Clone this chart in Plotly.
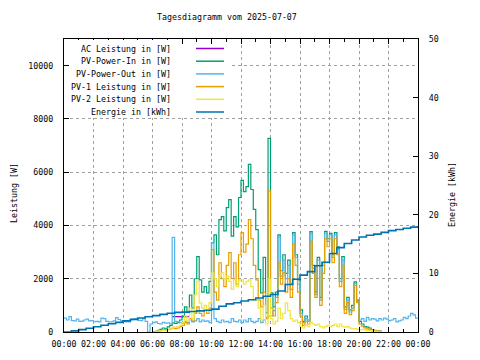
import plotly.graph_objects as go
import pandas as pd

DAY = "2025-07-07"
TITLE = "Tagesdiagramm vom 2025-07-07"

LEGEND_LABELS = ["AC Leistung in [W]", "PV-Power-In in [W]", "PV-Power-Out in [W]",
                 "PV-1 Leistung in [W]", "PV-2 Leistung in [W]", "Energie in [kWh]"]
COLORS = ["#9400d3", "#009e73", "#56b4e9", "#e69f00", "#f0e442", "#0072b2"]
X_TICK_LABELS = ["00:00", "02:00", "04:00", "06:00", "08:00", "10:00", "12:00",
                 "14:00", "16:00", "18:00", "20:00", "22:00", "00:00"]
Y_TICKS = [0, 2000, 4000, 6000, 8000, 10000]
Y2_TICKS = [0, 10, 20, 30, 40, 50]

# AC Leistung [W], 10-min samples from 07:20
AC = [580, 580, 580, 575, 580, 580, 580, 580]

# PV series [W], 10-min samples from 06:00 to 21:30
PV_IN = [0, 20, 60, 100, 150, 120,
         190, 250, 340, 320, 350, 450,
         600, 940, 750, 1390, 900, 2000,
         2830, 1960, 1500, 1700, 1470, 1900,
         3350, 3650, 2900, 4220, 4330, 3800,
         4670, 4970, 3600, 4330, 3950, 5050,
         5690, 5270, 5460, 6290, 5350, 4600,
         3840, 2340, 1470, 2800, 715, 7270,
         1470, 940, 1500, 3650, 2300, 2900,
         2200, 2700, 1800, 3730, 2900, 1960,
         830, 400, 600, 450, 3770, 2500,
         1500, 2800, 1300, 2600, 3780, 3500,
         3700, 2900, 3730, 3200, 2000, 2830,
         940, 1300, 830, 1000, 1880, 1200,
         400, 300, 200, 180, 150, 80,
         60, 40, 30, 0]

PV1 = [0, 10, 30, 50, 80, 60,
       100, 120, 150, 130, 150, 200,
       250, 350, 300, 500, 400, 700,
       940, 700, 600, 800, 700, 900,
       3090, 1500, 1200, 2600, 2000, 1700,
       2500, 2980, 2000, 2600, 1800, 2900,
       3730, 3000, 3300, 4220, 3500, 2500,
       1960, 1200, 940, 1500, 500, 5300,
       900, 600, 1100, 2600, 1800, 2220,
       1500, 2000, 1300, 3300, 2500, 1500,
       600, 250, 400, 300, 3400, 2200,
       1300, 2500, 1000, 2200, 3500, 3200,
       3500, 2600, 3500, 2900, 1700, 2500,
       700, 1100, 650, 800, 1750, 1100,
       300, 220, 150, 120, 100, 50,
       40, 30, 20, 0]

PV2 = [0, 10, 30, 50, 60, 50,
       80, 120, 180, 180, 200, 250,
       350, 600, 400, 900, 500, 1390,
       1900, 1090, 900, 1000, 800, 1100,
       2220, 2000, 1700, 2100, 2220, 2000,
       2100, 1900, 1600, 1960, 1700, 1950,
       1960, 1800, 1900, 1960, 1700, 1200,
       1200, 900, 450, 1000, 300, 2000,
       500, 300, 400, 900, 500, 700,
       1090, 800, 500, 400, 450, 350,
       200, 150, 250, 200, 350, 300,
       250, 300, 200, 150, 200, 250,
       200, 250, 300, 200, 300, 200,
       180, 200, 150, 120, 130, 100,
       80, 100, 80, 60, 50, 40,
       30, 20, 10, 0]

# PV-Power-Out [W], 10-min samples for the whole day
PV_OUT = [520, 450, 580, 430, 420, 480,
          400, 410, 450, 480, 420, 430,
          390, 400, 380, 520, 500, 400,
          380, 380, 420, 540, 470, 420,
          400, 380, 380, 450, 480, 500,
          440, 430, 500, 400, 0, 300,
          350, 380, 320, 300, 360, 330,
          340, 300, 3550, 400, 380, 350,
          330, 400, 350, 450, 380, 420,
          500, 380, 450, 400, 420, 350,
          3350, 500, 400, 350, 450, 380,
          400, 350, 500, 400, 380, 450,
          350, 450, 380, 500, 400, 350,
          400, 500, 350, 450, 550, 600,
          600, 800, 1300, 3570, 2100, 2700,
          2000, 2500, 1600, 3650, 2800, 1800,
          700, 350, 500, 400, 3700, 2400,
          1400, 2700, 1200, 2500, 3700, 3400,
          3650, 2800, 3650, 3100, 1900, 2700,
          850, 1200, 750, 900, 1820, 1150,
          450, 500, 400, 550, 450, 500,
          480, 420, 500, 450, 520, 480,
          430, 450, 500, 380, 420, 450,
          550, 500, 600, 700, 640, 520,
          500]

# Energie [kWh], 30-min samples
ENERGY = [0.0, 0.2, 0.4, 0.65, 0.9, 1.15, 1.4, 1.65, 1.9, 2.15, 2.4, 2.6,
          2.8, 3.0, 3.2, 3.35, 3.4, 3.5, 3.6, 3.7, 3.9, 4.4, 4.8, 5.0,
          5.3, 5.5, 5.8, 6.1, 6.4, 7.0, 8.1, 9.0, 9.7, 10.3, 11.3, 11.9,
          13.4, 14.4, 15.1, 15.7, 16.2, 16.5, 16.7, 17.0, 17.3, 17.5, 17.7, 17.9,
          18.1]

t_ac = pd.date_range(f"{DAY} 07:20", periods=len(AC), freq="10min")
t_pv = pd.date_range(f"{DAY} 06:00", periods=len(PV_IN), freq="10min")
t_out = pd.date_range(DAY, periods=len(PV_OUT), freq="10min")
t_en = pd.date_range(DAY, periods=len(ENERGY), freq="30min")
x_ticks = pd.date_range(DAY, periods=len(X_TICK_LABELS), freq="2h")

FONT = "DejaVu Sans Mono"
FS = 8.3

fig = go.Figure()
series = [(t_ac, AC), (t_pv, PV_IN), (t_out, PV_OUT), (t_pv, PV1), (t_pv, PV2)]
for (tx, vals), col in zip(series, COLORS[:5]):
    fig.add_trace(go.Scatter(x=tx, y=vals, mode="lines", line=dict(color=col, width=1.2, shape="hv"),
                             showlegend=False, hoverinfo="skip"))
fig.add_trace(go.Scatter(x=t_en, y=ENERGY, mode="lines", yaxis="y2",
                         line=dict(color=COLORS[5], width=1.6, shape="hv"),
                         showlegend=False, hoverinfo="skip"))

# The page body has an 8px default margin, so the figure is laid out 8px
# smaller and every page coordinate below is shifted by that offset.
OFF = 8
W, H = 480 - OFF, 360 - OFF
L, R, T, B = 64 - OFF, 418 - OFF, 39 - OFF, 332 - OFF
def px(x):
    return (x - OFF - L) / (R - L)
def py(y):
    return (B - (y - OFF)) / (B - T)

ann = []
shapes = []
# opaque white key box hiding the grid behind the key
shapes.append(dict(type="rect", xref="paper", yref="paper", layer="above",
                   x0=px(69.5), x1=px(176), y0=py(118), y1=py(40),
                   fillcolor="white", line=dict(width=0)))
shapes.append(dict(type="rect", xref="paper", yref="paper", layer="above",
                   x0=px(176), x1=px(229), y0=py(118), y1=py(44.5),
                   fillcolor="white", line=dict(width=0)))
ann.append(dict(x=px(227), y=py(17), xref="paper", yref="paper", text=TITLE, showarrow=False,
                xanchor="center", yanchor="middle", font=dict(family=FONT, size=FS, color="black")))
ann.append(dict(x=px(14), y=py(193), xref="paper", yref="paper", text="Leistung [W]", showarrow=False,
                textangle=-90, xanchor="center", yanchor="middle", font=dict(family=FONT, size=FS, color="black")))
ann.append(dict(x=px(452), y=py(194), xref="paper", yref="paper", text="Energie [kWh]", showarrow=False,
                textangle=-90, xanchor="center", yanchor="middle", font=dict(family=FONT, size=FS, color="black")))
for k, (lab, col) in enumerate(zip(LEGEND_LABELS, COLORS)):
    yy = 48.5 + 12.7 * k
    ann.append(dict(x=px(173), y=py(yy), xref="paper", yref="paper", text=lab, showarrow=False,
                    xanchor="right", yanchor="middle", font=dict(family=FONT, size=FS, color="black")))
    shapes.append(dict(type="line", xref="paper", yref="paper", x0=px(196), x1=px(224), y0=py(yy), y1=py(yy),
                       line=dict(color=col, width=1.5)))

axis_font = dict(family=FONT, size=FS, color="black")
GRID = dict(showgrid=True, gridcolor="#a0a0a0", griddash="3px,3px", gridwidth=1)
fig.update_layout(
    width=W, height=H,
    margin=dict(l=L, r=W - R, t=T, b=H - B, pad=0, autoexpand=False),
    paper_bgcolor="white", plot_bgcolor="white",
    annotations=ann, shapes=shapes,
    xaxis=dict(range=[pd.Timestamp(DAY), pd.Timestamp(DAY) + pd.Timedelta(days=1)],
               tickvals=x_ticks, ticktext=X_TICK_LABELS, tickfont=axis_font, automargin=False,
               ticks="inside", ticklen=5, tickcolor="black",
               minor=dict(dtick=3600000, ticks="inside", ticklen=3, tickcolor="black", showgrid=False),
               showline=True, linecolor="black", linewidth=1, mirror="ticks", zeroline=False,
               ticklabelstandoff=4, **GRID),
    yaxis=dict(range=[0, 11000], tickvals=Y_TICKS, ticktext=[str(v) for v in Y_TICKS], tickfont=axis_font,
               automargin=False, ticks="inside", ticklen=5, tickcolor="black",
               showline=True, linecolor="black", linewidth=1, mirror=True, zeroline=False,
               ticklabelstandoff=8, **GRID),
    yaxis2=dict(range=[0, 50], tickvals=Y2_TICKS, ticktext=[str(v) for v in Y2_TICKS], tickfont=axis_font,
                automargin=False, overlaying="y", side="right", ticks="inside", ticklen=5, tickcolor="black",
                showgrid=False, showline=True, linecolor="black", linewidth=1, zeroline=False,
                ticklabelstandoff=8),
)

fig.write_html("out.html")
